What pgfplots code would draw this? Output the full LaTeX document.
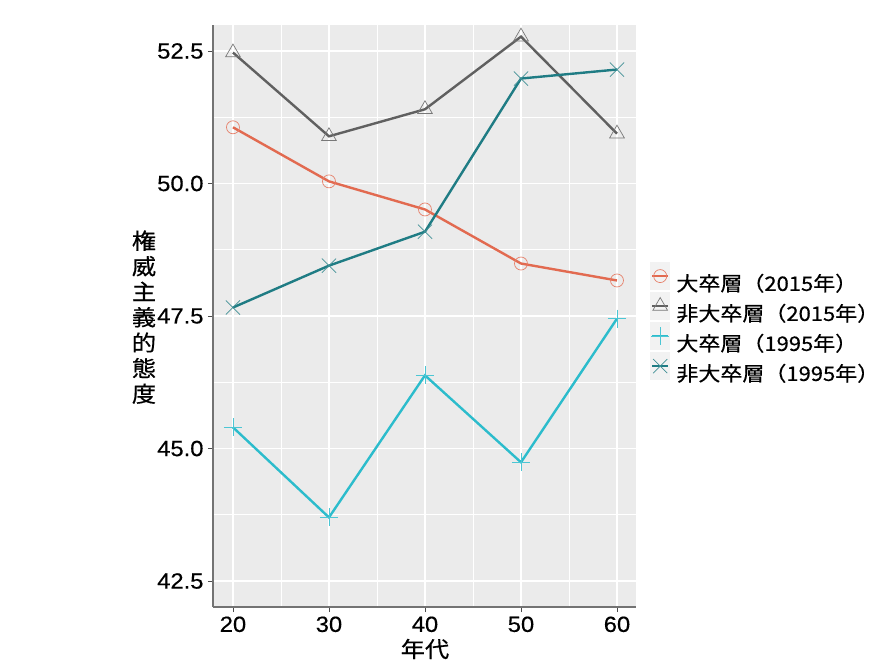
\documentclass[border=0pt]{standalone}
\usepackage{pgfplots}
\pgfplotsset{compat=1.18}
\usepackage{fontspec}
\setmainfont{Liberation Sans}[FakeStretch=1.08, FakeBold=0.4]
\newfontfamily\cjk{Noto Sans CJK JP}[FakeStretch=1.1, FakeBold=0.5]
\definecolor{corange}{RGB}{226,106,80}
\definecolor{cgray}{RGB}{96,96,96}
\definecolor{ccyan}{RGB}{44,188,204}
\definecolor{cteal}{RGB}{31,124,132}
\definecolor{panel}{RGB}{235,235,235}
\definecolor{keybg}{RGB}{242,242,242}
\begin{document}
\begin{tikzpicture}[x=1bp,y=1bp]
\useasboundingbox (-213bp,-55bp) rectangle (671bp,607bp);
\begin{axis}[
  at={(0,0)}, anchor=south west,
  scale only axis, width=423bp, height=582bp,
  xmin=17.92, xmax=61.98, ymin=42.01, ymax=52.99,
  xtick={20,30,40,50,60},
  ytick={42.5,45,47.5,50,52.5},
  yticklabels={42.5,45.0,47.5,50.0,52.5},
  minor xtick={25,35,45,55},
  minor ytick={43.75,46.25,48.75,51.25},
  grid=both,
  major grid style={white, line width=1.1bp},
  minor grid style={white, line width=0.55bp},
  axis background/.style={fill=panel},
  axis x line*=bottom, axis y line*=left,
  axis line style={-, draw=black!55, line width=1.2bp},
  tick align=outside, major tick length=5bp, minor tick length=0pt,
  tick style={draw=black!70, line width=0.8bp},
  /pgf/number format/assume math mode=true,
  ticklabel style={font=\fontsize{22bp}{24bp}\selectfont, text=black},
  xticklabel style={yshift=-1bp},
  yticklabel style={xshift=-1bp},
  legend style={at={(1,0.489)}, anchor=west, xshift=14bp, draw=none, fill=none,
    font=\cjk\fontsize{20bp}{24bp}\selectfont, inner sep=0pt, outer sep=0pt,
    row sep=0pt, column sep=6bp,
    nodes={inner sep=0pt, outer sep=0pt}},
  legend cell align=left,
  legend image code/.code={
    \fill[keybg] (0bp,-5.5bp) rectangle (18bp,19.5bp);
    \draw[#1, mark repeat=2, mark phase=2] plot coordinates {(1bp,7bp) (9bp,7bp) (17bp,7bp)};
  },
  clip=false,
]
\addplot[corange, line width=2.4bp, mark=o, mark size=6.5bp,
  mark options={line width=0.7bp, draw=corange!85}]
  coordinates {(20,51.06) (30,50.04) (40,49.51) (50,48.49) (60,48.17)};
\addlegendentry{大卒層（2015年）}
\addplot[cgray, line width=2.4bp, mark=triangle, mark size=8.5bp,
  mark options={line width=0.7bp, draw=cgray!85}]
  coordinates {(20,52.47) (30,50.89) (40,51.40) (50,52.77) (60,50.94)};
\addlegendentry{非大卒層（2015年）}
\addplot[ccyan, line width=2.4bp, mark=+, mark size=9bp,
  mark options={line width=0.7bp, draw=ccyan!85}]
  coordinates {(20,45.40) (30,43.70) (40,46.38) (50,44.74) (60,47.45)};
\addlegendentry{大卒層（1995年）}
\addplot[cteal, line width=2.4bp, mark=x, mark size=10bp,
  mark options={line width=0.7bp, draw=cteal!85}]
  coordinates {(20,47.66) (30,48.45) (40,49.09) (50,51.98) (60,52.15)};
\addlegendentry{非大卒層（1995年）}
\node[font=\cjk\fontsize{22bp}{25.5bp}\selectfont, align=center, inner sep=0pt]
  at (rel axis cs:0,0.498) [xshift=-69bp] {権\\威\\主\\義\\的\\態\\度};
\node[font=\cjk\fontsize{22bp}{25bp}\selectfont, inner sep=0pt]
  at (axis cs:40,42.01) [yshift=-42bp] {年代};
\end{axis}
\end{tikzpicture}
\end{document}
